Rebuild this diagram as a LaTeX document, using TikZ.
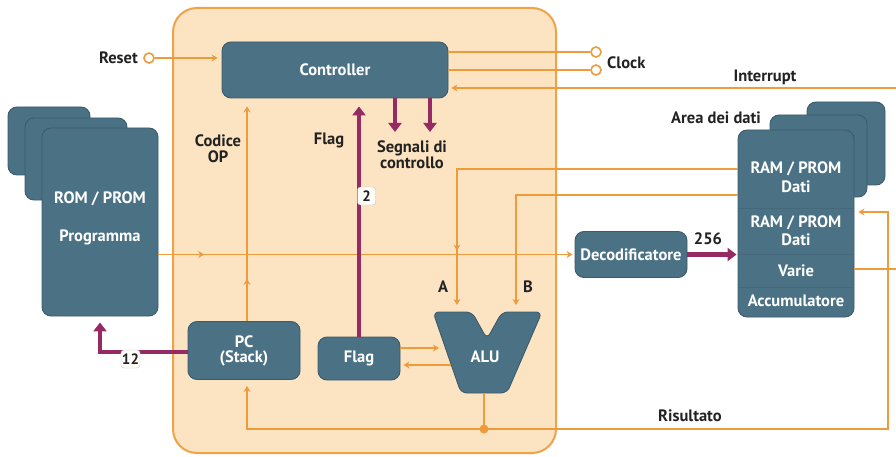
\documentclass[tikz,border=0pt]{standalone}
\usepackage{fontspec}
\setmainfont{PT Sans}
\usetikzlibrary{arrows.meta,decorations.markings,calc}
\definecolor{panelfill}{HTML}{FCE3C2}
\definecolor{panelline}{HTML}{F0A247}
\definecolor{wire}{HTML}{EE9B3C}
\definecolor{unit}{HTML}{4B7284}
\definecolor{unitedge}{HTML}{3C5B6A}
\definecolor{bus}{HTML}{962A63}
\definecolor{ink}{HTML}{222222}
\begin{document}
\begin{tikzpicture}[x=1pt,y=-1pt,
  txt/.style={font=\bfseries\fontsize{16.5}{18}\selectfont},
  unitbox/.style={txt, fill=unit, draw=unitedge, line width=0.9pt, rounded corners=9pt,
    text=white, inner sep=0pt, align=center},
  lbl/.style={txt, text=ink, inner sep=0pt, align=center},
  inlbl/.style={txt, text=white, inner sep=0pt},
  wireline/.style={color=wire, line width=1.6pt},
  tip/.style={-{Stealth[length=6pt,width=7pt]}},
  midarrow/.style={postaction={decorate}, decoration={markings,
    mark=at position #1 with {\arrow{Stealth[length=6pt,width=7pt]}}}},
  busline/.style={color=bus, line width=4.5pt, line join=miter, -{Triangle[length=9pt,width=13pt]}},
  port/.style={circle, draw=wire, fill=white, line width=1.6pt, minimum size=10pt, inner sep=0pt},
  tag/.style={draw=gray!50, fill=white!92!panelfill, rounded corners=3pt, text=ink,
    font=\bfseries\fontsize{15}{16}\selectfont, inner sep=1pt, minimum height=18pt, minimum width=18pt}
]
\useasboundingbox (0,0) rectangle (896,457);

% processor panel
\node[fill=panelfill, draw=panelline, line width=2pt, rounded corners=24pt,
      minimum width=383pt, minimum height=445pt] (cpu) at (364.5,230.5) {};

% program memory stack
\node[unitbox, minimum width=82pt, minimum height=68pt] (romc) at (49,141) {};
\node[unitbox, minimum width=102pt, minimum height=82pt] (romb) at (76,159) {};
\node[unitbox, minimum width=116pt, minimum height=188pt] (rom) at (100,222) {};
\node[inlbl] (romt1) at (100,199) {ROM / PROM};
\node[inlbl] (romt2) at (100,237) {Programma};

% data memory stack
\node[unitbox, minimum width=78pt, minimum height=83pt] (ramc) at (846,143.5) {};
\node[unitbox, minimum width=97pt, minimum height=82pt] (ramb) at (818.5,156) {};
\node[unitbox, minimum width=116pt, minimum height=187pt] (ram) at (796,223.5) {};
\foreach \yy in {208,254,287}
  \draw[unitedge!40!unit, line width=1pt] (ram.west |- 0,\yy) -- (ram.east |- 0,\yy);
\node[inlbl] (ramt1) at (796,169) {RAM / PROM};
\node[inlbl] (ramt2) at (796,187) {Dati};
\node[inlbl] (ramt3) at (796,223) {RAM / PROM};
\node[inlbl] (ramt4) at (796,240) {Dati};
\node[inlbl] (ramt5) at (796,271) {Varie};
\node[inlbl] (ramt6) at (796,301) {Accumulatore};

% processing units
\node[unitbox, minimum width=226pt, minimum height=56pt] (ctrl) at (335,70) {Controller};
\node[unitbox, minimum width=112pt, minimum height=58pt] (pc) at (244,350.5) {PC\\[-3pt](Stack)};
\node[unitbox, minimum width=82pt, minimum height=43pt] (flagbox) at (359,358.5) {Flag};
\node[unitbox, minimum width=112pt, minimum height=46pt] (deco) at (631,254.5) {Decodificatore};

% ALU
\fill[unit, draw=unitedge, line width=0.9pt, rounded corners=6pt]
  (433,312) -- (472,312) -- (487,339) -- (502,312) -- (542,312) -- (507,393) -- (461,393) -- cycle;
\node[inlbl] (alu) at (485,357) {ALU};
\coordinate (aluA) at (457,312);
\coordinate (aluB) at (516,312);
\coordinate (aluIn) at (445,348);
\coordinate (aluBack) at (451,365);
\coordinate (aluOut) at (484,393);

% external ports
\node[port] (reset) at (149,58) {};
\node[port] (clk1) at (596,52) {};
\node[port] (clk2) at (596,70) {};
\coordinate (irq) at (896,88);

% labels
\node[lbl, anchor=east] (resetlbl) at (138,58) {Reset};
\node[lbl, anchor=west] (clocklbl) at (607,63) {Clock};
\node[lbl] (irqlbl) at (765,77) {Interrupt};
\node[lbl] (oplbl) at (218,149) {Codice\\[-2pt]OP};
\node[lbl] (flaglbl) at (329,140) {Flag};
\node[lbl] (siglbl) at (412,155) {Segnali di\\[-2pt]controllo};
\node[lbl] (arealbl) at (716,118) {Area dei dati};
\node[lbl] (albl) at (443,287) {A};
\node[lbl] (blbl) at (528,287) {B};
\node[lbl] (buslbl) at (708,239) {256};
\node[lbl] (reslbl) at (690,416) {Risultato};

% helper coordinates for bends
\coordinate (pcx) at (247,350);
\coordinate (acorner) at (457,169);
\coordinate (bcorner) at (516,195);
\coordinate (join) at (484,429);
\coordinate (rcol) at (888,212);
\coordinate (varieout) at (896,269);
\coordinate (pcbend) at (100,352);
\coordinate (sig1) at (395,132);
\coordinate (sig2) at (430,132);

% orange signal wires
\draw[wireline, tip, shorten >=4pt] (reset) -- (ctrl.west |- reset);
\draw[wireline] (ctrl.east |- clk1) -- (clk1);
\draw[wireline] (ctrl.east |- clk2) -- (clk2);
\draw[wireline, tip, shorten >=3pt] (irq) -- (ctrl.east |- irq);
\draw[wireline, tip, shorten >=8pt, midarrow=0.19] (pc.north -| pcx) -- (ctrl.south -| pcx);
\draw[wireline, tip, shorten >=2pt, midarrow=0.11] (rom.east |- deco) -- (deco.west);
\draw[wireline, tip, shorten >=7pt, midarrow=0.855] (ram.west |- acorner) -- (acorner) -- (aluA);
\draw[wireline, tip, shorten >=7pt] (ram.west |- bcorner) -- (bcorner) -- (aluB);
\draw[wireline, tip, shorten >=6pt] (flagbox.east |- aluIn) -- (aluIn);
\draw[wireline, tip, shorten >=3pt] (aluBack) -- (flagbox.east |- aluBack);
\draw[wireline] (aluOut) -- (join);
\draw[wireline, tip, shorten >=6pt] (join) -- (join -| pcx) -- (pc.south -| pcx);
\draw[wireline, tip, shorten >=4pt] (join) -- (join -| rcol) -- (rcol) -- (ram.east |- rcol);
\draw[wireline] (ram.east |- varieout) -- (varieout);
\fill[wire] (join) circle (4.5pt);

% purple buses
\draw[busline, shorten >=8pt] (flagbox.north) -- (flagbox.north |- ctrl.south);
\draw[busline] (ctrl.south -| sig1) -- (sig1);
\draw[busline] (ctrl.south -| sig2) -- (sig2);
\draw[busline, shorten >=1pt] (deco.east) -- (ram.west |- deco);
\draw[busline, shorten >=6pt] (pc.west |- pcbend) -- (pcbend) -- (rom.south);

% bus width tags
\node[tag] (tag2) at (366.5,196) {2};
\node[tag] (tag12) at (130.5,359) {12};
\end{tikzpicture}
\end{document}
